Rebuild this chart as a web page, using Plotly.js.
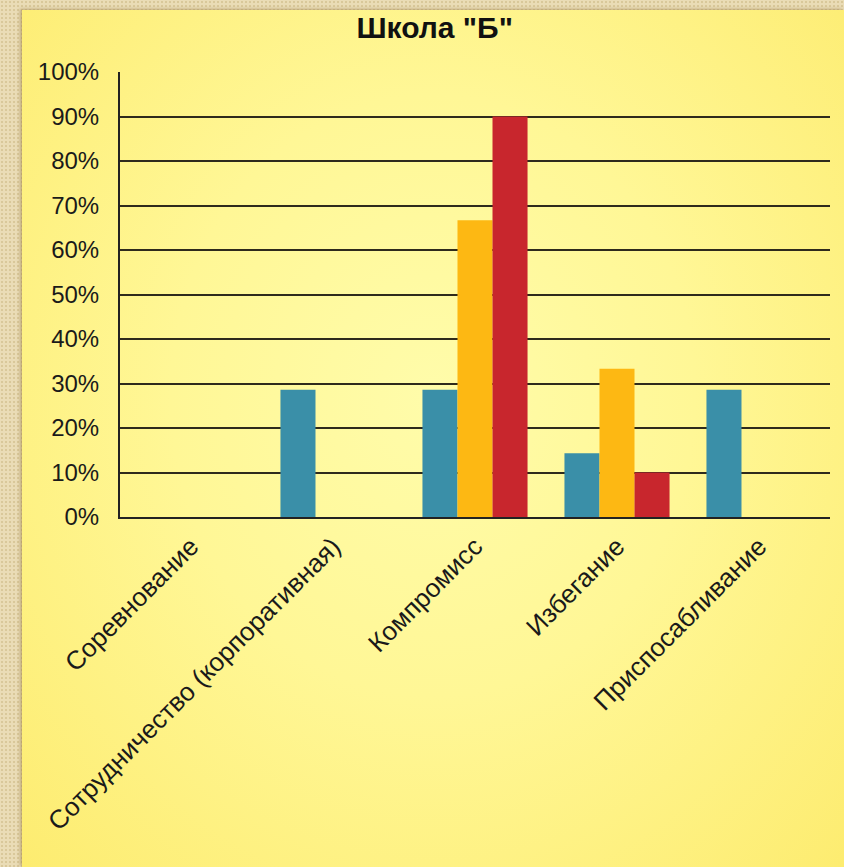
<!DOCTYPE html>
<html><head><meta charset="utf-8">
<script src="https://cdn.plot.ly/plotly-3.0.1.min.js"></script>
<style>
html,body{margin:0;padding:0;width:844px;height:867px;overflow:hidden;}
body{background-color:#eadcb6;background-image:radial-gradient(#d9c89a 1px, transparent 1.2px);background-size:4px 4px;position:relative;}
#bg{position:absolute;left:22px;top:10px;width:822px;height:857px;
background:radial-gradient(ellipse at 50% 45%, #fffcaa 0%, #fff796 45%, #fdec70 100%);
box-shadow:-2px -1px 3px rgba(150,120,60,0.5);}
#chart{position:absolute;left:0;top:0;width:844px;height:867px;}
</style></head><body>
<div id="bg"></div>
<div id="chart"></div>
<script>
const categories = ["Соревнование","Сотрудничество (корпоративная)","Компромисс","Избегание","Приспосабливание"];
const series1 = [0, 0.286, 0.286, 0.143, 0.286];
const series2 = [0, 0, 0.667, 0.333, 0];
const series3 = [0, 0, 0.90, 0.10, 0];
const yTickVals = [0,0.1,0.2,0.3,0.4,0.5,0.6,0.7,0.8,0.9,1.0];
const yTickText = ["0%","10%","20%","30%","40%","50%","60%","70%","80%","90%","100%"];
const colors = ["#3a8fa8","#fdb813","#c8262d"];

const traces = [series1, series2, series3].map((v,i)=>({
  type:"bar", x:categories, y:v, marker:{color:colors[i]}, hoverinfo:"skip"
}));

const layout = {
  width:844, height:867,
  paper_bgcolor:"rgba(0,0,0,0)", plot_bgcolor:"rgba(0,0,0,0)",
  margin:{l:120,r:14,t:72,b:350},
  barmode:"group", bargap:0.26, bargroupgap:0,
  showlegend:false,
  font:{family:"Liberation Sans, Arial, sans-serif", color:"#1a1a1a"},
  title:{text:"<b>Школа \"Б\"</b>", font:{size:30,color:"#111"}, x:0.515, xanchor:"center", y:0.968, yanchor:"middle"},
  xaxis:{type:"category", tickangle:-45, tickfont:{size:26}, showline:true, linecolor:"#222", linewidth:2,
         ticks:"", showgrid:false, automargin:false, ticklabelstandoff:2},
  yaxis:{range:[0,1], tickvals:yTickVals, ticktext:yTickText, tickfont:{size:24},
         showgrid:true, gridcolor:"#2e2a1c", gridwidth:2, zeroline:false,
         showline:true, linecolor:"#222", linewidth:2, ticks:"", ticklabelstandoff:14, automargin:false}
};
Plotly.newPlot("chart", traces, layout, {staticPlot:true});
</script>
</body></html>
